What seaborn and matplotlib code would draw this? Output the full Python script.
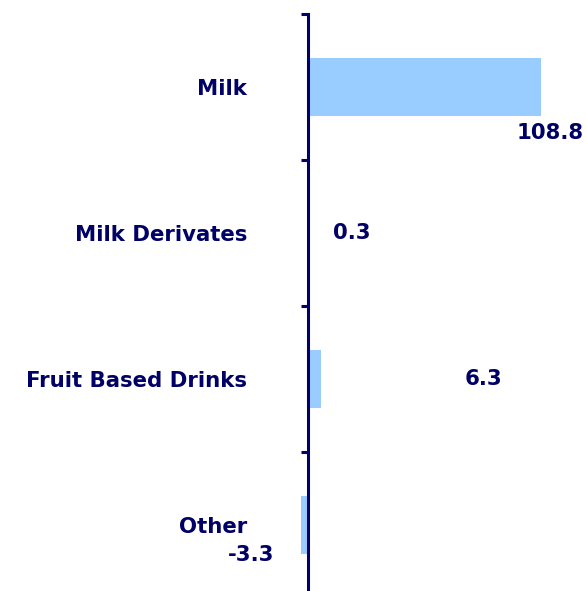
import matplotlib
matplotlib.use("Agg")
import matplotlib.pyplot as plt
import seaborn as sns
import pandas as pd

categories = ["Milk", "Milk Derivates", "Fruit Based Drinks", "Other"]
values = [108.8, 0.3, 6.3, -3.3]
value_labels = ["108.8", "0.3", "6.3", "-3.3"]

NAVY = "#000066"
BAR = "#99CCFF"

sns.set_theme(style="white")
plt.rcParams["font.family"] = ["DejaVu Sans"]

df = pd.DataFrame({"category": categories, "value": values})

fig = plt.figure(figsize=(5.87, 5.91), dpi=100)
# axes spans the full width; the category band runs slightly below the figure edge
ax = fig.add_axes([0.0, -7 / 591, 1.0, 584 / 591])

sns.barplot(data=df, x="value", y="category", orient="h", color=BAR,
            width=0.4, saturation=1, ax=ax, edgecolor="none")

ax.set_xlim(-308 / 2.14, 279 / 2.14)
ax.set_ylim(3.5, -0.5)

for side in ["top", "right", "bottom"]:
    ax.spines[side].set_visible(False)
ax.spines["left"].set_position(("data", 0))
ax.spines["left"].set_color(NAVY)
ax.spines["left"].set_linewidth(2.2)

ax.set_xticks([])
ax.set_yticks([-0.5, 0.5, 1.5, 2.5, 3.5])
ax.set_yticklabels([])
ax.set_yticks(range(len(categories)), minor=True)
ax.set_yticklabels(categories, minor=True)
ax.tick_params(axis="y", which="major", length=5, width=2.2, color=NAVY, direction="out", left=True)
ax.tick_params(axis="y", which="minor", length=0, pad=44, labelsize=15.3, labelcolor=NAVY)
for lbl in ax.get_yticklabels(minor=True):
    lbl.set_fontweight("bold")
ax.set_xlabel("")
ax.set_ylabel("")

# value labels, placed the way the original layout positions them
label_x = [113.1, 20.6, 81.8, -26.6]
label_y = [0.315, 1.0, 2.0, 3.205]
for x, y, t in zip(label_x, label_y, value_labels):
    ax.text(x, y, t, ha="center", va="center", color=NAVY,
            fontsize=15.3, fontweight="bold")

fig.savefig("out.png", dpi=100)
